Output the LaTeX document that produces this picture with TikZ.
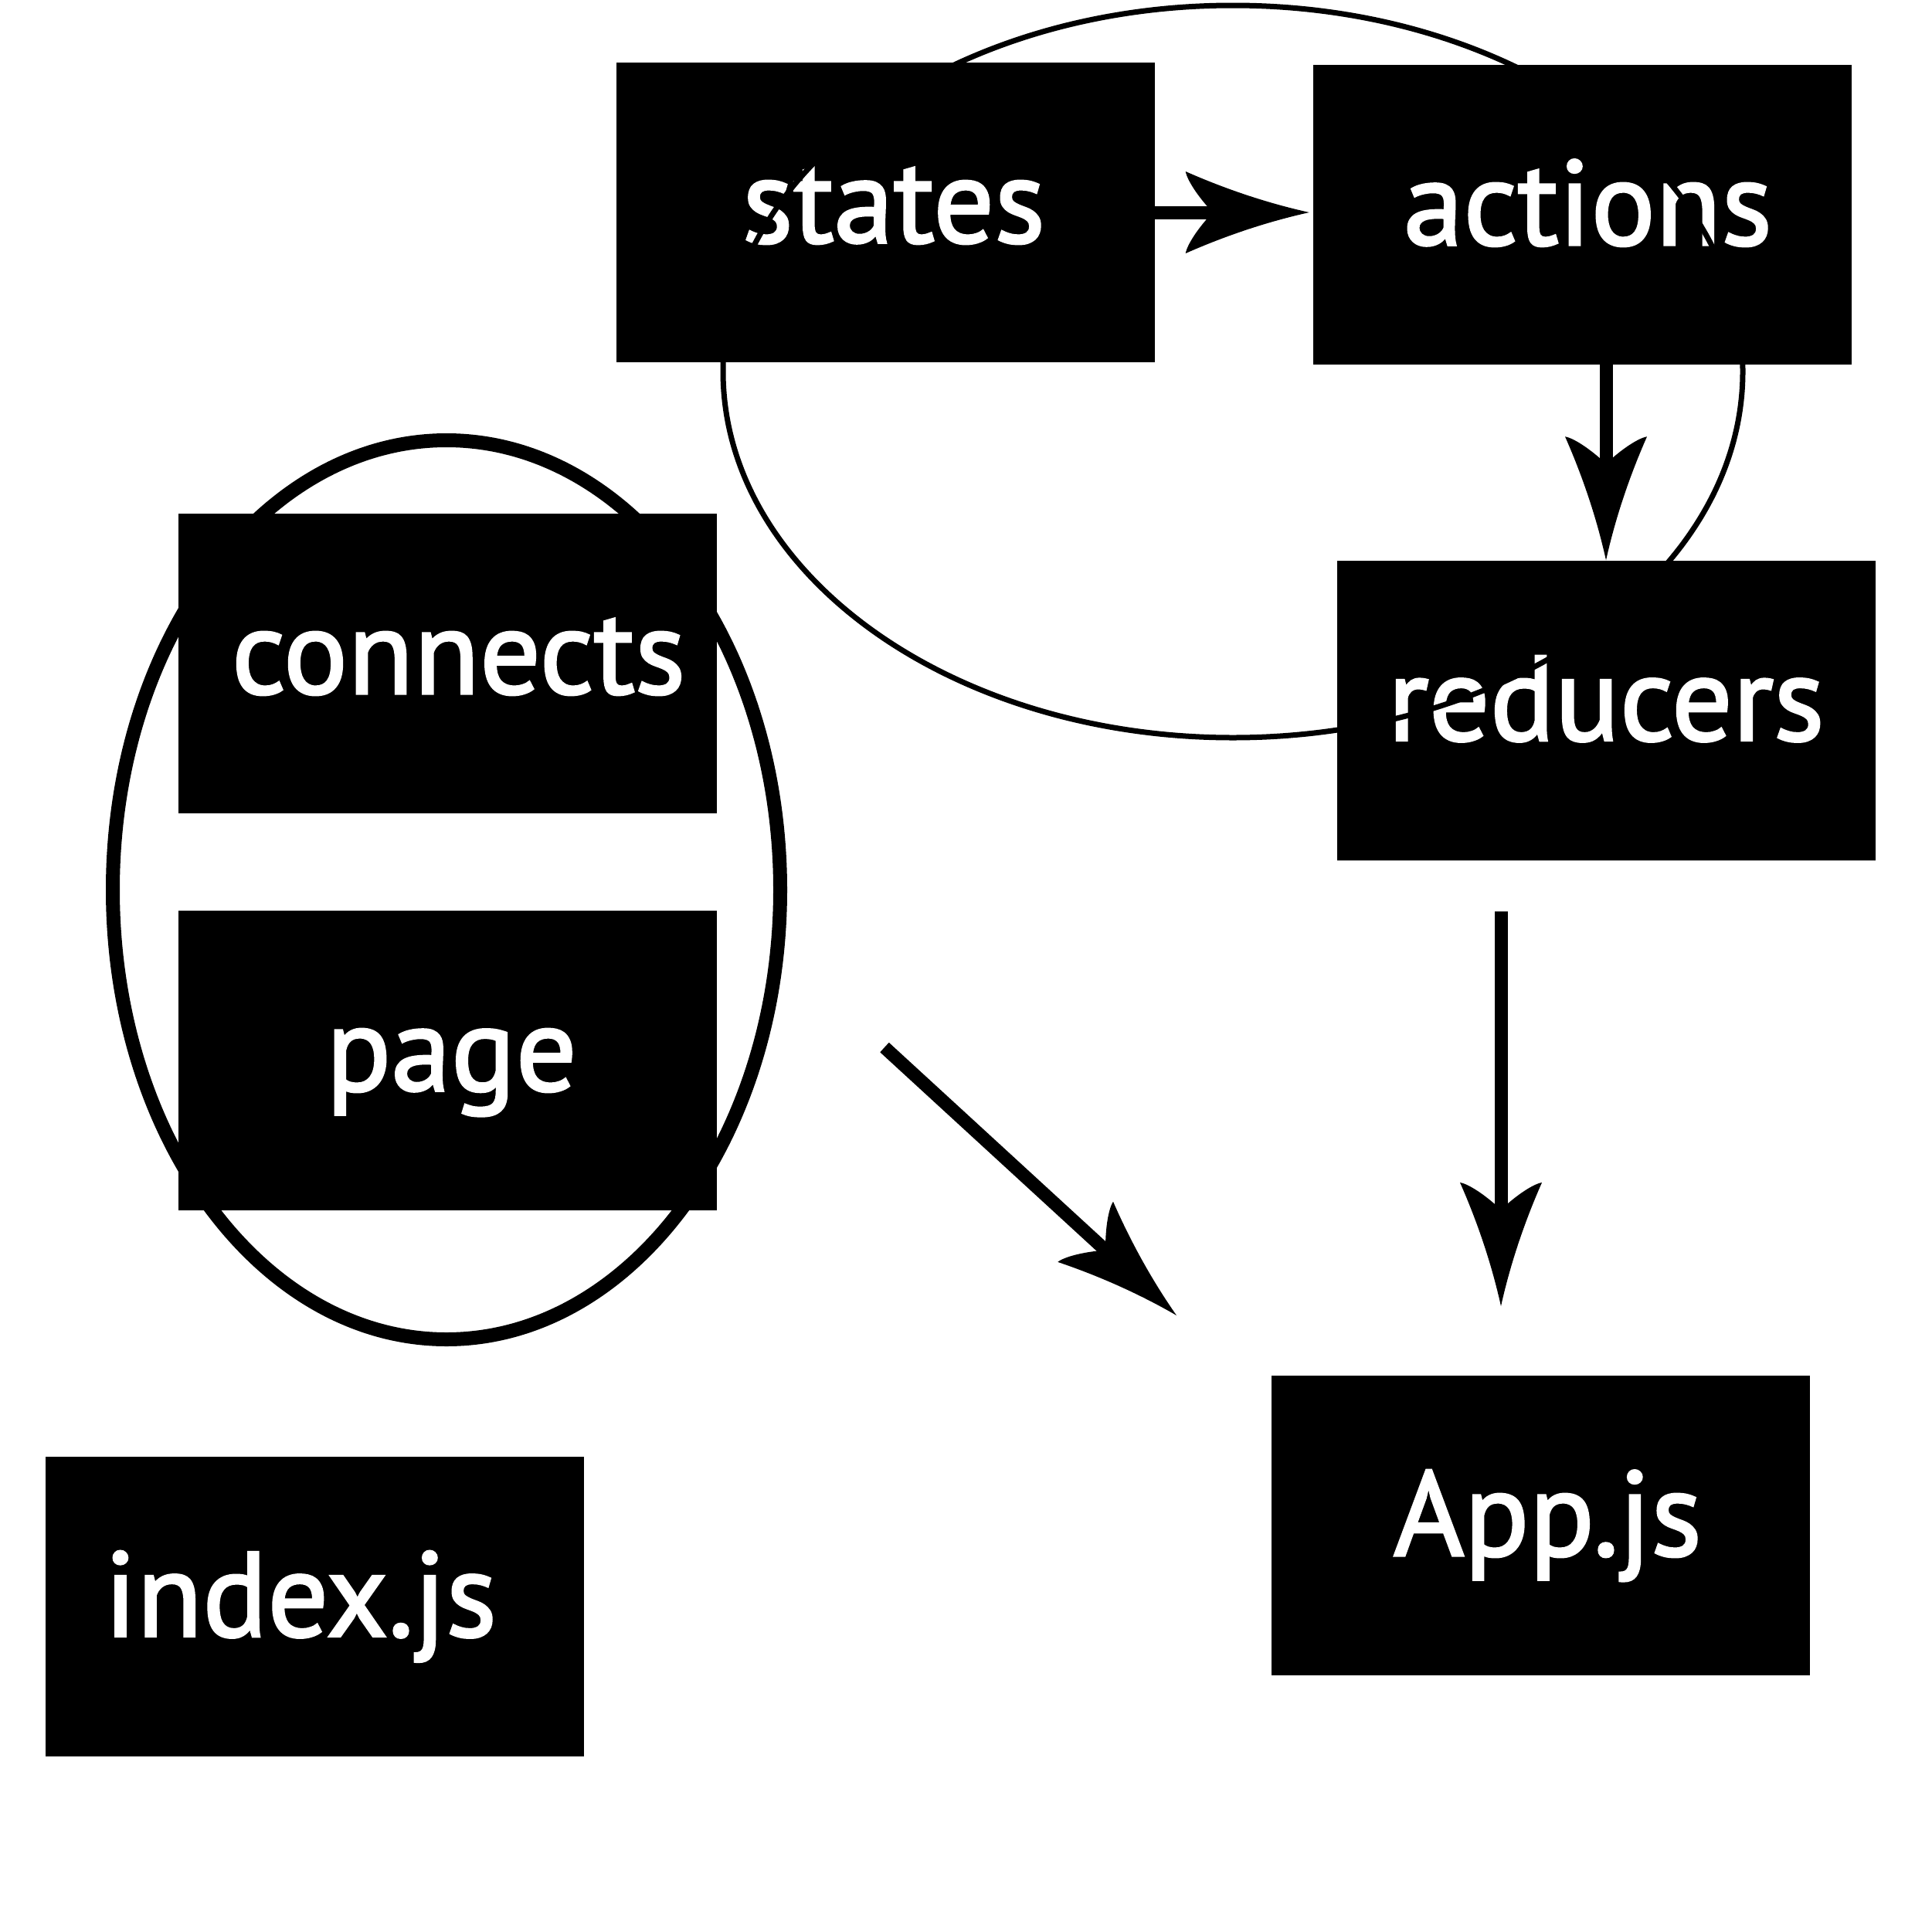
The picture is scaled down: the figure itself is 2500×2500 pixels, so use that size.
\documentclass[tikz,border=0pt]{standalone}
\usepackage{fontspec}
\setmainfont{PT Sans}
\newfontfamily\boxfont{PT Sans}[FakeBold=2]
\usetikzlibrary{arrows.meta}
\pgfdeclarearrow{
  name = Barb,
  parameters = {\the\pgfarrowlength,\the\pgfarrowwidth},
  setup code = {
    \pgfarrowssettipend{0pt}
    \pgfarrowssetlineend{-0.72\pgfarrowlength}
    \pgfarrowssetvisualbackend{-0.8\pgfarrowlength}
    \pgfarrowssetbackend{-\pgfarrowlength}
    \pgfarrowshullpoint{0pt}{0pt}
    \pgfarrowsupperhullpoint{-\pgfarrowlength}{0.5\pgfarrowwidth}
    \pgfarrowssavethe\pgfarrowlength
    \pgfarrowssavethe\pgfarrowwidth
  },
  drawing code = {
    \pgfpathmoveto{\pgfqpoint{0pt}{0pt}}
    \pgfpathcurveto{\pgfqpoint{-0.33\pgfarrowlength}{0.11\pgfarrowwidth}}{\pgfqpoint{-0.67\pgfarrowlength}{0.28\pgfarrowwidth}}{\pgfqpoint{-\pgfarrowlength}{0.5\pgfarrowwidth}}
    \pgfpathcurveto{\pgfqpoint{-0.99\pgfarrowlength}{0.4\pgfarrowwidth}}{\pgfqpoint{-0.9\pgfarrowlength}{0.19\pgfarrowwidth}}{\pgfqpoint{-0.78\pgfarrowlength}{0pt}}
    \pgfpathcurveto{\pgfqpoint{-0.9\pgfarrowlength}{-0.19\pgfarrowwidth}}{\pgfqpoint{-0.99\pgfarrowlength}{-0.4\pgfarrowwidth}}{\pgfqpoint{-\pgfarrowlength}{-0.5\pgfarrowwidth}}
    \pgfpathcurveto{\pgfqpoint{-0.67\pgfarrowlength}{-0.28\pgfarrowwidth}}{\pgfqpoint{-0.33\pgfarrowlength}{-0.11\pgfarrowwidth}}{\pgfqpoint{0pt}{0pt}}
    \pgfpathclose
    \pgfusepathqfill
  },
  defaults = {length=160pt, width=106pt}
}
\tikzset{
  box/.style={fill=black, draw=none, inner sep=0pt, minimum width=697pt, minimum height=388pt,
    text=white, font=\boxfont\fontsize{156pt}{160pt}\selectfont, text height=78pt, text depth=0pt},
  tshift/.style={execute at begin node={\hspace*{#1}}},
  conn/.style={line width=17pt, -{Barb[length=160pt, width=106pt]}},
  thinring/.style={line width=7pt},
  thickring/.style={line width=18pt}
}
\begin{document}
\begin{tikzpicture}[x=1pt, y=-1pt]
\useasboundingbox (0,0) rectangle (2500,2500);
\node[box, tshift=22pt] (states) at (1146,275) {states};
\node[box, tshift=14pt] (actions) at (2048.5,278) {actions};
\node[box] (reducers) at (2079,919.5) {reducers};
\node[box, tshift=28pt] (connects) at (579.5,859) {connects};
\node[box, tshift=10pt] (page) at (579.5,1373) {page};
\node[box, tshift=-36pt] (index) at (407,2079.5) {index.js};
\node[box, tshift=18pt] (app) at (1994.5,1975) {App.js};
\draw[thinring] (1596,481) ellipse [x radius=660, y radius=474];
\draw[thickring] (578,1152) ellipse [x radius=432, y radius=582];
\coordinate (rs) at (1943,1180);
\coordinate (re) at (1943,1691);
\coordinate (ds) at (1145,1356);
\coordinate (de) at (1523,1703);
\draw[conn, shorten >=5pt] (states.east) -- (states.east -| actions.west);
\draw[conn] (reducers.north |- actions.south) -- (reducers.north);
\draw[conn] (rs) -- (re);
\draw[conn] (ds) -- (de);
\end{tikzpicture}
\end{document}
